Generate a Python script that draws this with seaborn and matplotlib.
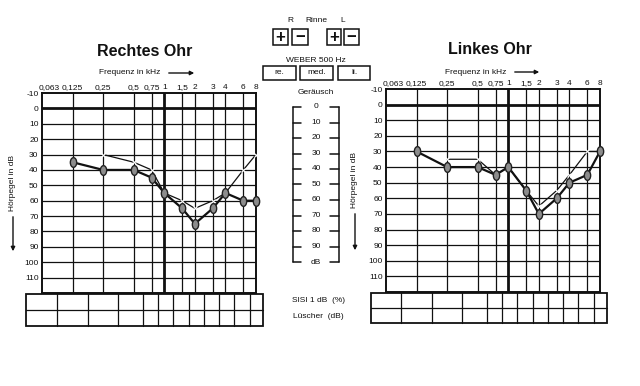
import numpy as np
import pandas as pd
import matplotlib
matplotlib.use('Agg')
import matplotlib.pyplot as plt
import seaborn as sns
from matplotlib.path import Path
from matplotlib.transforms import Affine2D, ScaledTranslation
from matplotlib.patches import Rectangle
from matplotlib.lines import Line2D

sns.set_style('white')
plt.rcParams['font.family'] = ['Liberation Sans', 'DejaVu Sans']

# audiogram data (dB HL)
freq_ticks = [0.0625, 0.125, 0.25, 0.5, 0.75, 1, 1.5, 2, 3, 4, 6, 8]
freq_labels = ['0,063', '0,125', '0,25', '0,5', '0,75', '1', '1,5', '2', '3', '4', '6', '8']
db_ticks = list(range(-10, 120, 10))

freq_a = [0.125, 0.25, 0.5, 0.75, 1, 1.5, 2, 3, 4, 6, 8]
freq_b = [0.25, 0.5, 0.75, 1, 1.5, 2, 3, 4, 6, 8]

rechts_a = [35, 40, 40, 45, 55, 65, 75, 65, 55, 60, 60]
rechts_b = [30, 35, 40, 55, 60, 65, 60, 55, 40, 30]
links_a = [30, 40, 40, 45, 40, 55, 70, 60, 50, 45, 30]
links_b = [35, 35, 45, 40, 55, 65, 55, 45, 30, 30]

noise_levels = ['0', '10', '20', '30', '40', '50', '60', '70', '80', '90', 'dB']

W, H = 640, 386
fig = plt.figure(figsize=(W / 100, H / 100), dpi=100)
INK = '#111111'


def rect(x0, y0, x1, y1):
    return [x0 / W, 1 - y1 / H, (x1 - x0) / W, (y1 - y0) / H]


def txt(x, y, s, **kw):
    kw.setdefault('fontsize', 6)
    kw.setdefault('ha', 'center')
    kw.setdefault('va', 'center')
    fig.text(x / W, 1 - y / H, s, color=INK, **kw)


def line(xs, ys, lw=1.0):
    fig.add_artist(Line2D([x / W for x in xs], [1 - y / H for y in ys],
                          transform=fig.transFigure, color=INK, lw=lw))


def box(x0, y0, x1, y1, lw=1.1):
    fig.add_artist(Rectangle((x0 / W, 1 - y1 / H), (x1 - x0) / W, (y1 - y0) / H,
                             transform=fig.transFigure, fill=False, ec=INK, lw=lw))


def arrow(x0, y0, x1, y1):
    fig.add_artist(matplotlib.patches.FancyArrowPatch(
        (x0 / W, 1 - y0 / H), (x1 / W, 1 - y1 / H), transform=fig.transFigure,
        arrowstyle='-|>', mutation_scale=6, lw=1.0, color=INK))


ear_marker = Path.unit_circle().transformed(Affine2D().scale(0.65, 1.0))


def audiogram(px, a_vals, b_vals, table_px):
    ax = fig.add_axes(rect(*px))
    ax.set_xscale('log', base=2)
    df_a = pd.DataFrame({'f': freq_a, 'db': a_vals})
    df_b = pd.DataFrame({'f': freq_b, 'db': b_vals})
    sns.lineplot(data=df_b, x='f', y='db', ax=ax, color=INK, lw=0.9,
                 marker='x', markersize=3.5, markeredgewidth=0.8, zorder=4,
                 clip_on=False)
    sns.lineplot(data=df_a, x='f', y='db', ax=ax, color=INK, lw=1.6,
                 marker=ear_marker, markersize=7, markerfacecolor='#8c8c8c',
                 markeredgecolor='#222222', markeredgewidth=1.0, zorder=5,
                 clip_on=False)
    ax.set_xlim(0.0625, 8)
    ax.set_ylim(120, -10)
    for f in freq_ticks[1:-1]:
        ax.axvline(f, color=INK, lw=2.0 if f == 1 else 0.9, zorder=1)
    for d in db_ticks[1:]:
        ax.axhline(d, color=INK, lw=2.0 if d == 0 else 0.9, zorder=1)
    ax.xaxis.tick_top()
    ax.set_xticks(freq_ticks)
    ax.set_xticklabels(freq_labels, fontsize=6)
    ax.xaxis.set_minor_locator(matplotlib.ticker.NullLocator())
    ax.set_yticks(db_ticks)
    ax.set_yticklabels([str(d) for d in db_ticks], fontsize=6)
    ax.tick_params(length=0, pad=2.5, colors=INK)
    ax.tick_params(axis='x', pad=1.5)
    lbl = ax.get_xticklabels()[0]
    lbl.set_transform(lbl.get_transform() + ScaledTranslation(5 / 72, 0, fig.dpi_scale_trans))
    ax.set_xlabel('')
    ax.set_ylabel('')
    for s in ax.spines.values():
        s.set_linewidth(1.4)
        s.set_color(INK)
        s.set_visible(True)

    # table under the chart, one cell per frequency
    tx0, ty0, tx1, ty1 = table_px
    x0, x1 = px[0], px[2]
    pos = [x0 + (np.log2(f) - np.log2(0.0625)) * (x1 - x0) / 7 for f in freq_ticks]
    box(tx0, ty0, tx1, ty1, lw=1.3)
    line([tx0, tx1], [(ty0 + ty1) / 2] * 2, lw=0.9)
    for p, q in zip(pos[:-1], pos[1:]):
        m = (p + q) / 2
        line([m, m], [ty0, ty1], lw=0.9)
    return ax


audiogram((42, 93, 256, 293), rechts_a, rechts_b, (26, 294, 263, 326))
audiogram((386, 89, 600, 292), links_a, links_b, (371, 293, 607, 323))

# titles and axis captions
txt(145, 51, 'Rechtes Ohr', fontsize=11.5, fontweight='bold')
txt(490, 49, 'Linkes Ohr', fontsize=11.5, fontweight='bold')
txt(130, 73, 'Frequenz in kHz')
arrow(166, 73, 197, 73)
txt(476, 72, 'Frequenz in kHz')
arrow(512, 72, 542, 72)
txt(13, 183, 'Hörpegel in dB', rotation=90)
arrow(13, 214, 13, 254)
txt(355, 180, 'Hörpegel in dB', rotation=90)
arrow(355, 211, 355, 253)

# Rinne
txt(290, 21, 'R')
txt(316, 21, 'Rinne')
txt(343, 21, 'L')
for (bx0, bx1), sign in zip([(273, 288), (292, 308), (327, 341), (344, 359)], ['+', '−', '+', '−']):
    box(bx0, 29, bx1, 45)
    txt((bx0 + bx1) / 2, 37.5, sign, fontsize=12, fontweight='bold')

# Weber
txt(316, 60, 'WEBER 500 Hz')
for (bx0, bx1), s in zip([(263, 296), (300, 333), (338, 370)], ['re.', 'med.', 'li.']):
    box(bx0, 66, bx1, 80)
    txt((bx0 + bx1) / 2, 73, s)

# Geräusch scale
txt(316, 93, 'Geräusch')
y_top, step = 107, 15.5
ys = [y_top + i * step for i in range(len(noise_levels))]
line([293, 293], [ys[0], ys[-1]], lw=1.1)
line([339, 339], [ys[0], ys[-1]], lw=1.1)
for y, s in zip(ys, noise_levels):
    line([293, 301], [y, y], lw=1.1)
    line([330, 339], [y, y], lw=1.1)
    txt(316, y, s)

txt(318, 300, 'SISI 1 dB  (%)')
txt(318, 316, 'Lüscher  (dB)')

fig.savefig('out.png', dpi=100, facecolor='white')
